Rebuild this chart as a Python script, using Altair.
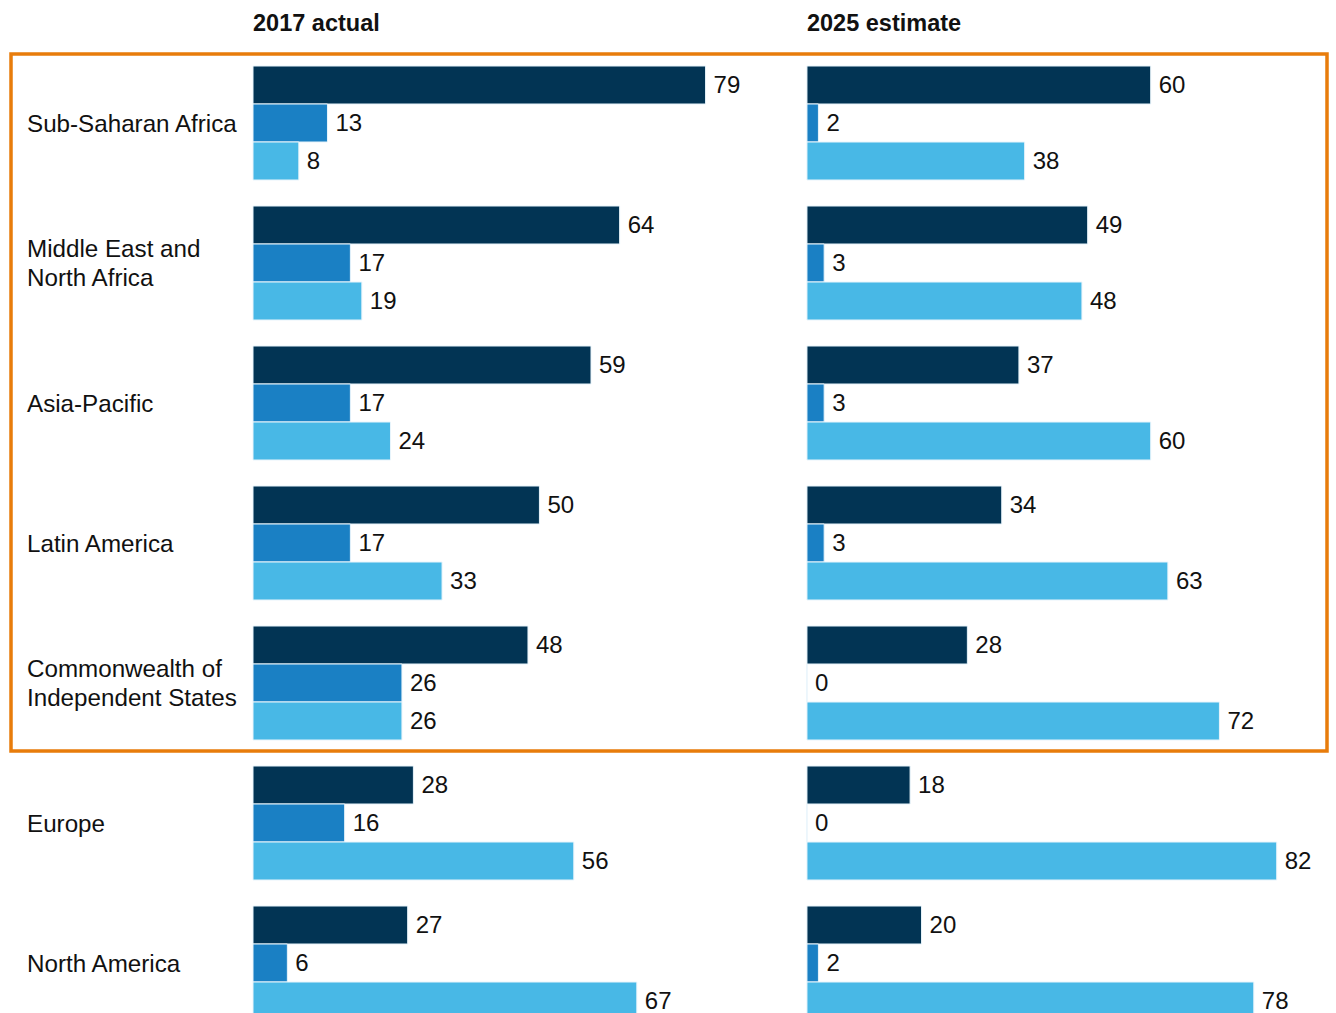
import altair as alt
import pandas as pd

regions = ["Sub-Saharan Africa", "Middle East and\nNorth Africa", "Asia-Pacific",
           "Latin America", "Commonwealth of\nIndependent States", "Europe", "North America"]
series = ["Series A", "Series B", "Series C"]
colors = ["#023454", "#1A80C4", "#48B8E6"]
periods = ["2017 actual", "2025 estimate"]

vals_2017 = {
    "Series A": [79, 64, 59, 50, 48, 28, 27],
    "Series B": [13, 17, 17, 17, 26, 16, 6],
    "Series C": [8, 19, 24, 33, 26, 56, 67],
}
vals_2025 = {
    "Series A": [60, 49, 37, 34, 28, 18, 20],
    "Series B": [2, 3, 3, 3, 0, 0, 2],
    "Series C": [38, 48, 60, 63, 72, 82, 78],
}

PANEL_OFFSET = 96.7  # x start of the second panel, in value units
FONT = "Liberation Sans"

rows = []
for p, vals in zip(periods, [vals_2017, vals_2025]):
    for s in series:
        for r, v in zip(regions, vals[s]):
            rows.append({"region": r, "series": s, "period": p, "value": v})
df = pd.DataFrame(rows)

W, H = 1077, 960
xscale = alt.Scale(domain=[0, 188], range=[0, W], nice=False, zero=True)
yscale = alt.Scale(domain=regions, range=[0, 980], paddingInner=26 / 140, paddingOuter=13 / 140)
yoff = alt.YOffset("series:N", sort=series, scale=alt.Scale(paddingInner=0, paddingOuter=0))

base = alt.Chart(df).transform_calculate(
    x0=f"datum.period == '{periods[1]}' ? {PANEL_OFFSET} : 0"
).transform_calculate(
    x1="datum.x0 + datum.value"
)

bars = base.mark_bar(stroke="#e8f4fb", strokeWidth=1).encode(
    x=alt.X("x0:Q", scale=xscale, axis=None),
    x2="x1:Q",
    y=alt.Y("region:N", scale=yscale, sort=regions, axis=None),
    yOffset=yoff,
    color=alt.Color("series:N", scale=alt.Scale(domain=series, range=colors), legend=None),
)

labels = base.mark_text(align="left", baseline="middle", dx=8, dy=1, font=FONT, fontSize=24,
                        color="#111111").encode(
    x=alt.X("x1:Q", scale=xscale, axis=None),
    y=alt.Y("region:N", scale=yscale, sort=regions, axis=None),
    yOffset=yoff,
    text="value:Q",
)

reg_df = pd.DataFrame({"region": regions})
reg_common = dict(align="left", baseline="middle", font=FONT, fontSize=24.2,
                  lineBreak="\n", lineHeight=29, color="#111111")
reg_enc = dict(
    x=alt.value(-226),
    y=alt.Y("region:N", scale=yscale, sort=regions, axis=None),
    text="region:N",
)
reg_single = alt.Chart(reg_df).transform_filter(
    "indexof(datum.region, '\\n') < 0"
).mark_text(dy=1.5, **reg_common).encode(**reg_enc)
reg_multi = alt.Chart(reg_df).transform_filter(
    "indexof(datum.region, '\\n') >= 0"
).mark_text(dy=-13, **reg_common).encode(**reg_enc)

head_df = pd.DataFrame({"period": periods, "pos": [0, PANEL_OFFSET]})
headers = alt.Chart(head_df).mark_text(align="left", baseline="middle", font=FONT, fontSize=23.5,
                                       fontWeight="bold", color="#111111").encode(
    x=alt.X("pos:Q", scale=xscale, axis=None),
    y=alt.value(-29),
    text="period:N",
)

frame = alt.Chart(pd.DataFrame({"k": [0]})).mark_rect(fill=None, stroke="#E87C0B", strokeWidth=3.5).encode(
    x=alt.value(-242), x2=alt.value(1074), y=alt.value(1), y2=alt.value(698)
)

chart = alt.layer(frame, bars, labels, reg_single, reg_multi, headers).properties(
    width=W, height=H, autosize="none",
    padding={"left": 253, "top": 53, "right": 6, "bottom": 0},
).configure_view(strokeWidth=0)

chart.save("out.html", embed_options={"renderer": "svg", "actions": False})
